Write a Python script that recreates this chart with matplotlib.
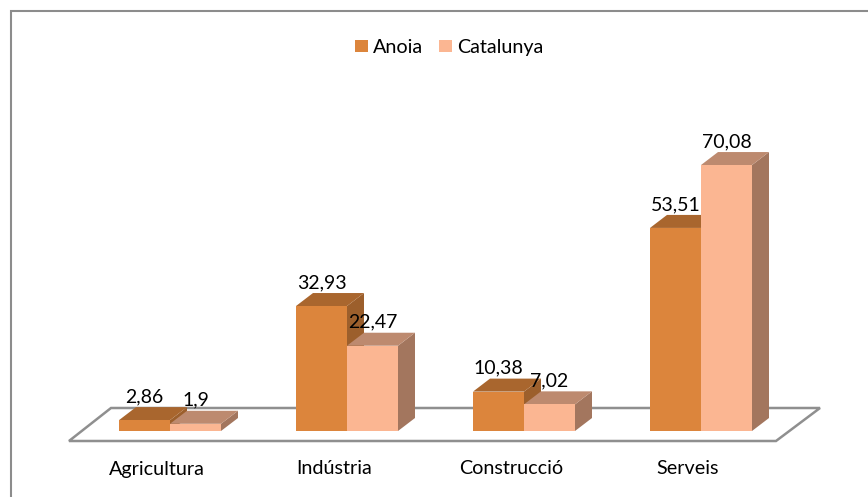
import matplotlib
matplotlib.use("Agg")
import matplotlib.pyplot as plt
from matplotlib.patches import Polygon, Rectangle

categories = ["Agricultura", "Indústria", "Construcció", "Serveis"]
anoia = [2.86, 32.93, 10.38, 53.51]
catalunya = [1.9, 22.47, 7.02, 70.08]
anoia_labels = ["2,86", "32,93", "10,38", "53,51"]
catalunya_labels = ["1,9", "22,47", "7,02", "70,08"]

W, H = 868, 497
plt.rcParams["font.family"] = ["Lato", "DejaVu Sans"]
fig = plt.figure(figsize=(W / 100, H / 100), dpi=100)

# Axes whose data scale maps: category boundary at px 170, spacing 177 px; value 0 at px 431, 3.795 px per unit
sx, sy = 177.0, 3.795
x0, y0 = 170.0, 431.0
ax = fig.add_axes([0, 0, 1, 1])
ax.set_xlim(-x0 / sx, (W - x0) / sx)
ax.set_ylim(-(H - y0) / sy, y0 / sy)
ax.axis("off")

dxp, dyp = 17 / sx, 13 / sy  # 3D depth
bw = 51 / sx
GRAY = "#8c8c8c"

# frame
fig.add_artist(Rectangle((11 / W, -0.1), 2000, 0.1 + (H - 11) / H, transform=fig.transFigure,
                         fill=False, ec=GRAY, lw=1.5))

# floor
fx = [-101 / sx, 606 / sx, 650 / sx, -59 / sx]
fy = [-10 / sy, -10 / sy, 23 / sy, 23 / sy]
ax.add_patch(Polygon(list(zip(fx, fy)), closed=True, fc="white", ec="#8f8f8f", lw=1.8, zorder=1, joinstyle="miter"))

series = [
    (anoia, -bw, "#dc853c", "#a9662e", "#9c5f2c"),
    (catalunya, 0.0, "#fbb692", "#bd8a6f", "#a3765e"),
]
z = 2
for i in range(len(categories)):
    for vals, off, front, top, side in series:
        v = vals[i]
        l, r = i + off, i + off + bw
        ax.add_patch(Polygon([(r, 0), (r + dxp, dyp), (r + dxp, v + dyp), (r, v)], fc=side, ec="none", zorder=z))
        ax.add_patch(Polygon([(l, v), (r, v), (r + dxp, v + dyp), (l + dxp, v + dyp)], fc=top, ec="none", zorder=z))
        ax.add_patch(Rectangle((l, 0), bw, v, fc=front, ec="none", zorder=z + 0.5))
        z += 1

fs = 14.0
fs_cat = 14.2
for i, c in enumerate(categories):
    ax.text(i - 13 / sx, -38 / sy, c, ha="center", va="center", fontsize=fs_cat, color="black", zorder=50)
    ax.text(i - bw / 2, anoia[i] + 23.5 / sy, anoia_labels[i], ha="center", va="center", fontsize=fs, color="black", zorder=50)
    ax.text(i + bw / 2, catalunya[i] + 23.5 / sy, catalunya_labels[i], ha="center", va="center", fontsize=fs, color="black", zorder=50)

# legend
h = [Rectangle((0, 0), 1, 1, fc=series[0][2]), Rectangle((0, 0), 1, 1, fc=series[1][2])]
leg = fig.legend(h, ["Anoia", "Catalunya"], loc="center", bbox_to_anchor=(449.5 / W, 1 - 47.5 / H), ncol=2,
                 frameon=False, fontsize=fs_cat, handlelength=0.62, handleheight=0.62, handletextpad=0.3,
                 columnspacing=0.8, borderpad=0)
fig.savefig("out.png", dpi=100)
